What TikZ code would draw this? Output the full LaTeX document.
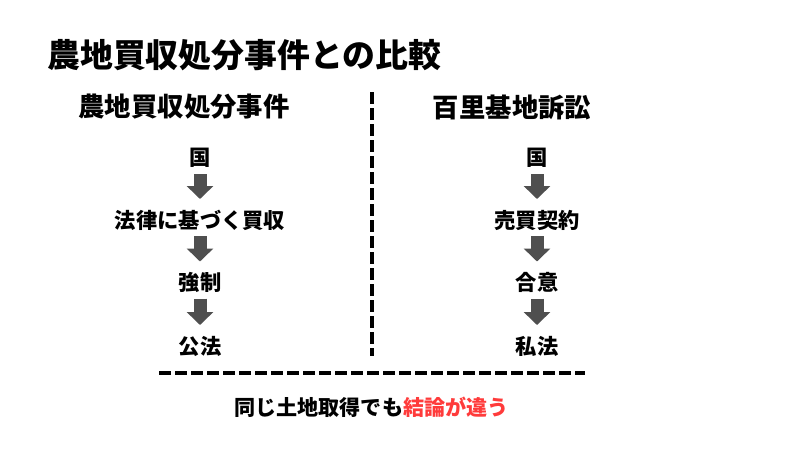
\documentclass[tikz,border=0pt]{standalone}
\usepackage{fontspec}
\setmainfont{Noto Sans CJK JP}
\usepackage{xcolor}
\usetikzlibrary{arrows.meta,positioning}
\definecolor{arrowgray}{HTML}{4F4F4F}
\definecolor{accentred}{HTML}{FF3B3B}
\tikzset{
  titletext/.style={font=\bfseries\fontsize{18.7}{22}\selectfont, inner sep=0pt},
  headtext/.style={font=\bfseries\fontsize{15}{18}\selectfont, inner sep=0pt},
  itemtext/.style={font=\bfseries\fontsize{12.1}{15}\selectfont, inner sep=0pt},
  flow/.style={arrowgray, line width=0.26cm, shorten <=0.32cm, shorten >=0.42cm,
    -{Triangle[width=0.52cm,length=0.26cm]}},
  divider/.style={line width=0.08cm, dash pattern=on 0.24cm off 0.08cm}
}
\begin{document}
\begin{tikzpicture}
\useasboundingbox (0,0) rectangle (16,-9);
% Title
\node[titletext, anchor=west] (title) at (0.94,-1.1) {農地買収処分事件との比較};

% Left column
\node[headtext] (lhead) at (3.68,-2.14) {農地買収処分事件};
\node[itemtext] (l1) at (4,-3.16) {国};
\node[itemtext] (l2) at (4,-4.4) {法律に基づく買収};
\node[itemtext] (l3) at (4,-5.65) {強制};
\node[itemtext] (l4) at (4,-6.92) {公法};

% Right column
\node[headtext] (rhead) at (10.24,-2.14) {百里基地訴訟};
\node[itemtext] (r1) at (10.74,-3.16) {国};
\node[itemtext] (r2) at (10.74,-4.4) {売買契約};
\node[itemtext] (r3) at (10.74,-5.65) {合意};
\node[itemtext] (r4) at (10.74,-6.92) {私法};

% Arrows
\draw[flow] (l1.center) -- (l2.center);
\draw[flow] (l2.center) -- (l3.center);
\draw[flow] (l3.center) -- (l4.center);
\draw[flow] (r1.center) -- (r2.center);
\draw[flow] (r2.center) -- (r3.center);
\draw[flow] (r3.center) -- (r4.center);

% Dividers
\draw[divider] (7.44,-1.84) -- (7.44,-7.12);
\draw[divider] (3.18,-7.45) -- (11.7,-7.45);

% Conclusion
\node[itemtext, font=\bfseries\fontsize{12}{15}\selectfont] (note) at (7.43,-8.14)
  {同じ土地取得でも\textcolor{accentred}{結論が違う}};
\end{tikzpicture}
\end{document}
